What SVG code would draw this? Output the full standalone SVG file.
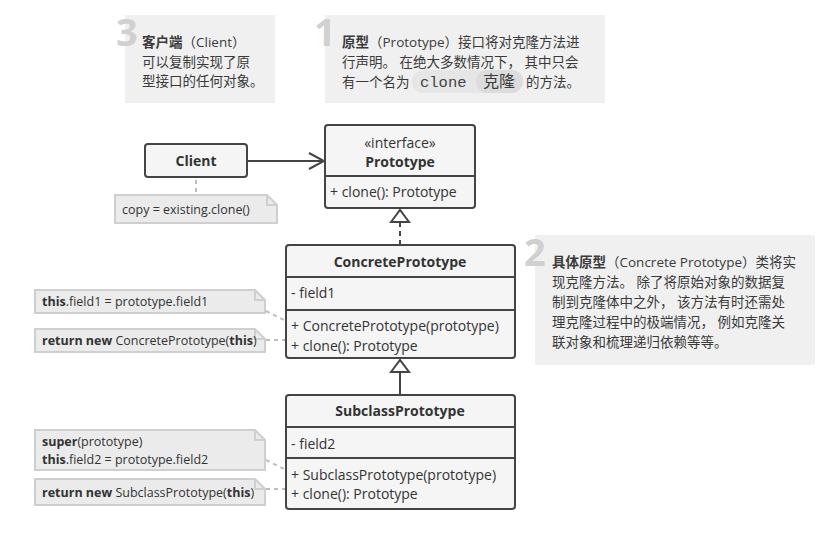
<svg xmlns="http://www.w3.org/2000/svg" width="834" height="548" viewBox="0 0 834 548">
<style>
.bg{fill:#fff}
.callout{fill:#f0f0f0}
.num{font-family:"Open Sans","Liberation Sans",sans-serif;font-weight:bold;font-size:38px;fill:#d0d0d0}
.ct{font-family:"Open Sans","Noto Sans CJK SC",sans-serif;font-size:13.5px;fill:#3a3a3a}
.b{font-weight:bold}
.mono{font-family:"Liberation Mono","DejaVu Sans Mono",monospace;font-size:15.5px;fill:#444}
.box{fill:#f5f5f5;stroke:#444;stroke-width:2}
.div{stroke:#444;stroke-width:2;fill:none}
.fold{stroke:#cfcfcf;stroke-width:2;fill:none}
.t{font-family:"Open Sans","Liberation Sans",sans-serif;font-size:14px;fill:#333}
.tc{text-anchor:middle}
.note{fill:#ebebeb;stroke:#cfcfcf;stroke-width:2}
.nt{font-family:"Open Sans","Liberation Sans",sans-serif;font-size:12.5px;fill:#333}
.link{stroke:#444;stroke-width:2;fill:none}
.dotted{stroke:#bdbdbd;stroke-width:2;stroke-dasharray:4 4;fill:none}
</style>
<defs>
<marker id="open" markerUnits="userSpaceOnUse" markerWidth="18" markerHeight="18" viewBox="0 0 18 18" refX="16" refY="9" orient="auto">
<path d="M1,1 L16,9 L1,17" fill="none" stroke="#444" stroke-width="2"/>
</marker>
<marker id="tri" markerUnits="userSpaceOnUse" markerWidth="16" markerHeight="22" viewBox="0 0 16 22" refX="14" refY="11" orient="auto">
<path d="M2,2 L14,11 L2,20 Z" fill="#fff" stroke="#444" stroke-width="2"/>
</marker>
</defs>
<rect class="bg" width="834" height="548"/>

<g id="callout-3">
<rect class="callout" x="125" y="15" width="150" height="88"/>
<text class="num" x="116" y="46">3</text>
<text class="ct" x="142" y="47"><tspan class="b">客户端</tspan>（Client）</text>
<text class="ct" x="142" y="67">可以复制实现了原</text>
<text class="ct" x="142" y="86">型接口的任何对象。</text>
</g>

<g id="callout-1">
<rect class="callout" x="325" y="15" width="280" height="88"/>
<text class="num" x="314" y="46">1</text>
<text class="ct" x="342" y="47"><tspan class="b">原型</tspan>（Prototype）接口将对克隆方法进</text>
<text class="ct" x="342" y="67" xml:space="preserve">行声明。 在绝大多数情况下， 其中只会</text>
<rect x="412" y="70" width="111" height="23" rx="11.5" fill="#e6e6e6"/>
<rect x="476" y="70" width="47" height="23" rx="11.5" fill="#dcdcdc"/>
<text class="ct" x="342" y="87">有一个名为</text>
<text class="mono" x="420" y="87">clone</text>
<text class="ct" x="483" y="87" style="font-size:16px">克隆</text>
<text class="ct" x="526" y="87">的方法。</text>
</g>

<g id="callout-2">
<rect class="callout" x="535" y="235" width="280" height="130"/>
<text class="num" x="524" y="266">2</text>
<text class="ct" x="552" y="267"><tspan class="b">具体原型</tspan>（Concrete Prototype）类将实</text>
<text class="ct" x="552" y="287" xml:space="preserve">现克隆方法。 除了将原始对象的数据复</text>
<text class="ct" x="552" y="307" xml:space="preserve">制到克隆体中之外， 该方法有时还需处</text>
<text class="ct" x="552" y="327" xml:space="preserve">理克隆过程中的极端情况， 例如克隆关</text>
<text class="ct" x="552" y="347">联对象和梳理递归依赖等等。</text>
</g>

<g id="connectors">
<line class="link" x1="247" y1="161" x2="324" y2="161" marker-end="url(#open)"/>
<line class="link" x1="400" y1="245" x2="400" y2="210" stroke-dasharray="5 4" marker-end="url(#tri)"/>
<line class="link" x1="400" y1="395" x2="400" y2="360" marker-end="url(#tri)"/>
<line class="dotted" x1="196" y1="180" x2="196" y2="195"/>
<line class="dotted" x1="266" y1="311" x2="286" y2="321"/>
<line class="dotted" x1="266" y1="340" x2="286" y2="340"/>
<line class="dotted" x1="266" y1="460" x2="286" y2="470"/>
<line class="dotted" x1="266" y1="489" x2="286" y2="489"/>
</g>

<g id="client">
<rect class="box" x="145" y="144" width="102" height="33" rx="3"/>
<text class="t tc b" x="196" y="166">Client</text>
</g>

<g id="prototype">
<rect class="box" x="325" y="125" width="150" height="83" rx="3"/>
<line class="div" x1="325" y1="176" x2="475" y2="176"/>
<text class="t tc" x="400" y="148">«interface»</text>
<text class="t tc b" x="400" y="167">Prototype</text>
<text class="t" x="330" y="197">+ clone(): Prototype</text>
</g>

<g id="concrete-prototype">
<rect class="box" x="286" y="245" width="229" height="113" rx="3"/>
<line class="div" x1="286" y1="277" x2="515" y2="277"/>
<line class="div" x1="286" y1="310" x2="515" y2="310"/>
<text class="t tc b" x="400" y="267">ConcretePrototype</text>
<text class="t" x="291" y="298">- field1</text>
<text class="t" x="291" y="331">+ ConcretePrototype(prototype)</text>
<text class="t" x="291" y="351">+ clone(): Prototype</text>
</g>

<g id="subclass-prototype">
<rect class="box" x="286" y="395" width="229" height="114" rx="3"/>
<line class="div" x1="286" y1="427" x2="515" y2="427"/>
<line class="div" x1="286" y1="458" x2="515" y2="458"/>
<text class="t tc b" x="400" y="416">SubclassPrototype</text>
<text class="t" x="291" y="449">- field2</text>
<text class="t" x="291" y="480">+ SubclassPrototype(prototype)</text>
<text class="t" x="291" y="499">+ clone(): Prototype</text>
</g>

<g id="note-client">
<path class="note" d="M115,195 H267 L277,205 V223 H115 Z"/>
<path class="fold" d="M267,195 V205 H277"/>
<text class="nt" x="122" y="214">copy = existing.clone()</text>
</g>

<g id="note-concrete-ctor">
<path class="note" d="M35,290 H255 L265,300 V313 H35 Z"/>
<path class="fold" d="M255,290 V300 H265"/>
<text class="nt" x="42" y="306"><tspan class="b">this</tspan>.field1 = prototype.field1</text>
</g>

<g id="note-concrete-clone">
<path class="note" d="M35,329 H255 L265,339 V352 H35 Z"/>
<path class="fold" d="M255,329 V339 H265"/>
<text class="nt" x="42" y="345"><tspan class="b">return new</tspan> ConcretePrototype(<tspan class="b">this</tspan>)</text>
</g>

<g id="note-subclass-ctor">
<path class="note" d="M35,430 H255 L265,440 V470 H35 Z"/>
<path class="fold" d="M255,430 V440 H265"/>
<text class="nt" x="42" y="446"><tspan class="b">super</tspan>(prototype)</text>
<text class="nt" x="42" y="464"><tspan class="b">this</tspan>.field2 = prototype.field2</text>
</g>

<g id="note-subclass-clone">
<path class="note" d="M35,479 H255 L265,489 V505 H35 Z"/>
<path class="fold" d="M255,479 V489 H265"/>
<text class="nt" x="42" y="497"><tspan class="b">return new</tspan> SubclassPrototype(<tspan class="b">this</tspan>)</text>
</g>
</svg>
